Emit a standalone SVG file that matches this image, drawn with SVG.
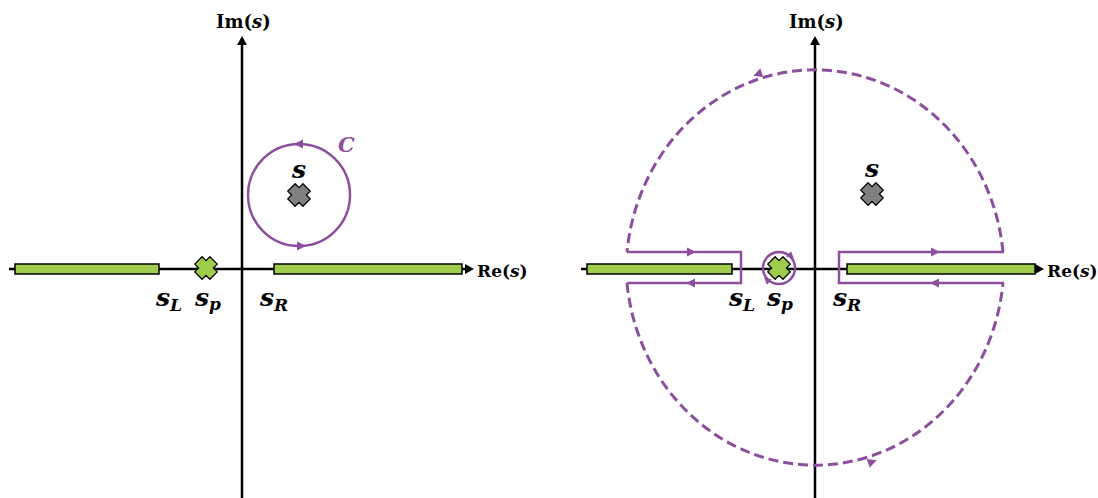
<svg xmlns="http://www.w3.org/2000/svg" width="1098" height="498" viewBox="0 0 1098 498">
<style>
.ax{stroke:#000;stroke-width:2.5;fill:none}
.bar{fill:#9fcd4b;stroke:#000;stroke-width:1.5}
.ct{stroke:#8b4f9e;stroke-width:2.5;fill:none}
.dash{stroke:#8b4f9e;stroke-width:3;fill:none;stroke-dasharray:10 5}
.ah{fill:#8b4f9e}
.lb{font-family:"DejaVu Serif",serif;font-weight:bold;font-size:18px;fill:#000}
.re{font-size:17px}
.it{font-style:italic}
.sv{font-family:"DejaVu Serif",serif;font-weight:bold;font-style:italic;font-size:25px;fill:#000}
.sub{font-size:17px}
</style>
<defs>
<path id="x" d="M-3.9,-11.3 L0,-7.4 L3.9,-11.3 L11.3,-3.9 L7.4,0 L11.3,3.9 L3.9,11.3 L0,7.4 L-3.9,11.3 L-11.3,3.9 L-7.4,0 L-11.3,-3.9 Z" stroke="#000" stroke-width="1.3" stroke-linejoin="round"/>
<path id="ah" d="M5,0 L-4,-4.5 L-4,4.5 Z"/>
<path id="axh" d="M0,0 L-9,-5 L-9,5 Z" fill="#000"/>
</defs>

<g id="left-axes">
<line class="ax" x1="9" y1="269" x2="466" y2="269"/>
<use href="#axh" transform="translate(474,269)"/>
<line class="ax" x1="242" y1="498" x2="242" y2="44"/>
<use href="#axh" transform="translate(242,36) rotate(-90)"/>
<text class="lb" x="216" y="28">Im(<tspan class="it">s</tspan>)</text>
<text class="lb re" x="477" y="277">Re(<tspan class="it">s</tspan>)</text>
</g>
<g id="left-cuts">
<rect class="bar" x="15" y="264" width="144" height="10"/>
<rect class="bar" x="274" y="264" width="188" height="10"/>
</g>
<g id="left-sp">
<use href="#x" fill="#9fcd4b" transform="translate(206,268)"/>
<text class="sv" x="195" y="306">s<tspan class="sub" dy="4">p</tspan></text>
</g>
<g id="left-labels">
<text class="sv" x="156" y="306">s<tspan class="sub" dy="5">L</tspan></text>
<text class="sv" x="260" y="306">s<tspan class="sub" dy="5">R</tspan></text>
</g>
<g id="left-s">
<use href="#x" fill="#808080" transform="translate(299,195)"/>
<text class="sv" x="299" y="178" text-anchor="middle">s</text>
</g>
<g id="left-contour">
<circle class="ct" cx="299" cy="195" r="51"/>
<use href="#ah" class="ah" transform="translate(299,144) rotate(180)"/>
<use href="#ah" class="ah" transform="translate(301,246)"/>
<text x="338" y="152" font-family="DejaVu Serif,serif" font-weight="bold" font-style="italic" font-size="21" fill="#8b4f9e">C</text>
</g>

<g id="right-axes">
<line class="ax" x1="581" y1="269" x2="1036" y2="269"/>
<use href="#axh" transform="translate(1044,269)"/>
<line class="ax" x1="815" y1="498" x2="815" y2="44"/>
<use href="#axh" transform="translate(815,36) rotate(-90)"/>
<text class="lb" x="789" y="28">Im(<tspan class="it">s</tspan>)</text>
<text class="lb re" x="1047" y="277">Re(<tspan class="it">s</tspan>)</text>
</g>
<g id="connectors">
<path class="dash" d="M1003,252 A189,203 0 0 0 627,252"/>
<path class="dash" d="M627,283 A189,203 0 0 0 1003,283"/>
<path class="ct" d="M627,252 H741 V283 H627"/>
<path class="ct" d="M1004,252 H839 V283 H1004"/>
<circle class="ct" cx="779" cy="268" r="16"/>
<use href="#ah" class="ah" transform="translate(758,74) rotate(161)"/>
<use href="#ah" class="ah" transform="translate(872,462) rotate(-19)"/>
<use href="#ah" class="ah" transform="translate(691,252)"/>
<use href="#ah" class="ah" transform="translate(691,283) rotate(180)"/>
<use href="#ah" class="ah" transform="translate(935,252)"/>
<use href="#ah" class="ah" transform="translate(935,283) rotate(180)"/>
<use href="#ah" class="ah" transform="translate(791,256) rotate(43) scale(0.8)"/>
<use href="#ah" class="ah" transform="translate(767,280) rotate(223) scale(0.8)"/>
</g>
<g id="right-cuts">
<rect class="bar" x="587" y="264" width="145" height="10"/>
<rect class="bar" x="847" y="264" width="188" height="10"/>
</g>
<g id="right-sp">
<use href="#x" fill="#9fcd4b" transform="translate(779,268)"/>
<text class="sv" x="767" y="306">s<tspan class="sub" dy="4">p</tspan></text>
</g>
<g id="right-labels">
<text class="sv" x="729" y="306">s<tspan class="sub" dy="5">L</tspan></text>
<text class="sv" x="833" y="306">s<tspan class="sub" dy="5">R</tspan></text>
</g>
<g id="right-s">
<use href="#x" fill="#808080" transform="translate(872,194)"/>
<text class="sv" x="872" y="177" text-anchor="middle">s</text>
</g>
</svg>
